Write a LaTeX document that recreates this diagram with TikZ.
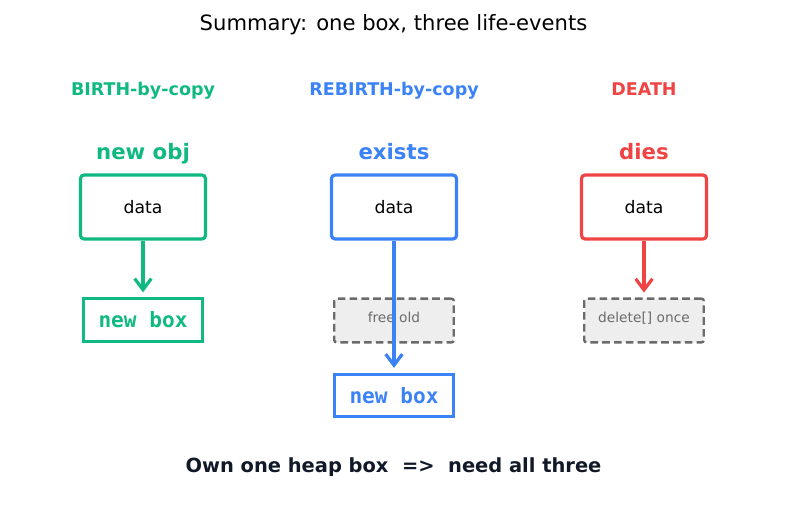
\documentclass[tikz,border=0pt]{standalone}
\usepackage{fontspec}
\setmainfont{DejaVu Sans}
\setmonofont{DejaVu Sans Mono}
\usetikzlibrary{arrows.meta,positioning}
\definecolor{birthcol}{HTML}{10B981}
\definecolor{rebirthcol}{HTML}{3B82F6}
\definecolor{deathcol}{HTML}{EF4444}
\definecolor{stepgray}{HTML}{6B6B6B}
\definecolor{stepfill}{HTML}{EEEEEE}
\definecolor{footcol}{HTML}{111827}

\begin{document}
\begin{tikzpicture}[x=0.72pt, y=-0.72pt,
    databox/.style={draw, line width=2.3pt, rounded corners=2.5pt, fill=white,
      minimum width=90pt, minimum height=46pt, inner sep=0pt,
      font=\fontsize{12.4}{14}\selectfont, text=black},
    heapbox/.style={draw, line width=2.3pt, fill=white,
      minimum width=86pt, minimum height=30.5pt, inner sep=0pt,
      font=\ttfamily\bfseries\fontsize{15.2}{17}\selectfont},
    stepbox/.style={draw=stepgray, dashed, dash pattern=on 5.5pt off 3pt, line width=1.7pt,
      rounded corners=1.5pt, fill=stepfill, minimum width=86pt, minimum height=31.5pt,
      inner sep=0pt, text=stepgray, font=\fontsize{9.9}{11}\selectfont},
    head/.style={anchor=base, font=\bfseries\fontsize{12.6}{14}\selectfont},
    state/.style={anchor=base, font=\bfseries\fontsize{15.3}{17}\selectfont},
    flow/.style={line width=2.3pt, -{Straight Barb[length=8pt,width=12pt,line width=2.3pt]}}]
  \useasboundingbox (0,0) rectangle (787,508);
  % Title
  \node[anchor=base] (title) at (393.5,31) {\fontsize{15.2}{17}\selectfont Summary: one box, three life-events};
  % Column heads
  \node[head, text=birthcol] (birthhead) at (143,95.5) {BIRTH-by-copy};
  \node[head, text=rebirthcol] (rebirthhead) at (394,95.5) {REBIRTH-by-copy};
  \node[head, text=deathcol] (deathhead) at (644,95.5) {DEATH};
  % States
  \node[state, text=birthcol] (birthstate) at (143,160) {new obj};
  \node[state, text=rebirthcol] (rebirthstate) at (394,160) {exists};
  \node[state, text=deathcol] (deathstate) at (644,160) {dies};
  % Data boxes
  \node[databox, draw=birthcol] (birthdata) at (143,207) {data};
  \node[databox, draw=rebirthcol] (rebirthdata) at (394,207) {data};
  \node[databox, draw=deathcol] (deathdata) at (644,207) {data};
  % Steps
  \node[heapbox, draw=birthcol, text=birthcol] (birthbox) at (143,320) {new box};
  \node[stepbox, text depth=5pt] (freeold) at (394,320.5) {free old};
  \node[heapbox, draw=rebirthcol, text=rebirthcol] (rebirthbox) at (394,395.5) {new box};
  \node[stepbox, text depth=4.5pt] (deleteonce) at (644,320.5) {delete[] once};
  % Arrows
  \draw[flow, birthcol, shorten >=3.5pt] (birthdata) -- (birthbox);
  \draw[flow, rebirthcol, shorten >=3.5pt] (rebirthdata) -- (rebirthbox);
  \draw[flow, deathcol, shorten >=3.5pt] (deathdata) -- (deleteonce);
  % Footer
  \node[anchor=base, text=footcol, font=\bfseries\fontsize{14}{16}\selectfont] (footer) at (393.5,472)
    {Own one heap box\ \ =>\ \ need all three};
\end{tikzpicture}
\end{document}
